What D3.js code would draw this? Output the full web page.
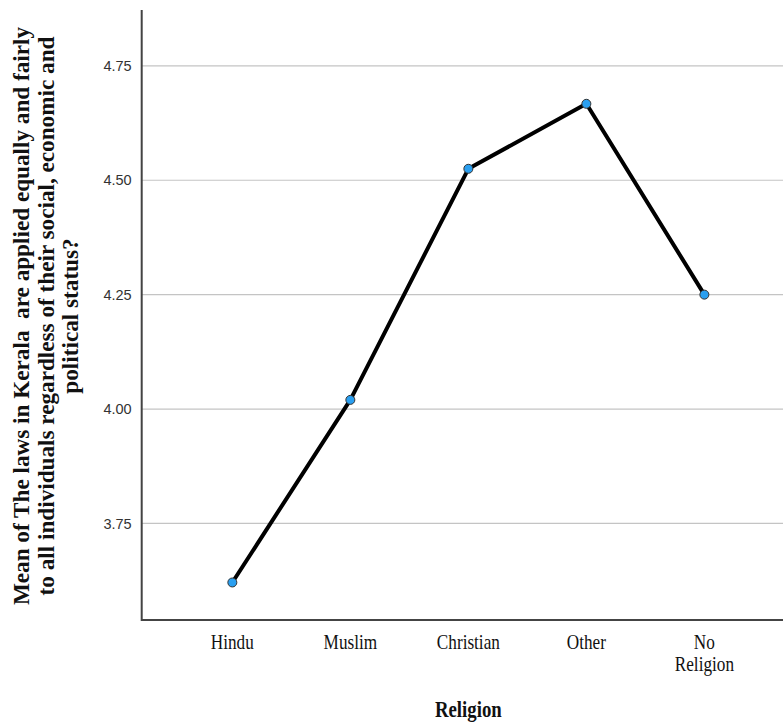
<!DOCTYPE html>
<html><head><meta charset="utf-8">
<script src="https://cdn.jsdelivr.net/npm/d3@7/dist/d3.min.js"></script>
<style>body{margin:0;background:#fff}svg{display:block}text{white-space:pre}</style>
</head><body>
<svg id="c" width="783" height="726"></svg>
<script>
const categories = ["Hindu","Muslim","Christian","Other","No Religion"];
const categoryLines = [["Hindu"],["Muslim"],["Christian"],["Other"],["No","Religion"]];
const meanValues = [3.621, 4.020, 4.525, 4.667, 4.250];
const yTicks = [3.75, 4.00, 4.25, 4.50, 4.75];
const yTitleLines = ["Mean of The laws in Kerala  are applied equally and fairly",
  "to all individuals regardless of their social, economic and",
  "political status?"];
const xTitle = "Religion";

const svg = d3.select("#c");
const pLeft = 141.7, pRight = 795, pTop = 10, pBottom = 620;
const x = d3.scalePoint().domain(categories).range([pLeft, pRight]).padding(0.768);
const y = d3.scaleLinear().domain([3.539, 4.872]).range([pBottom, pTop]);
const vs = 1.2; // vertical stretch of horizontal text

// gridlines
svg.append("g").selectAll("line").data(yTicks).join("line")
  .attr("x1", pLeft).attr("x2", 783)
  .attr("y1", d => y(d)).attr("y2", d => y(d))
  .attr("stroke", "#c4c4c4").attr("stroke-width", 1.2);

// y axis
const ya = svg.append("g").attr("transform", `translate(${pLeft},0)`)
  .call(d3.axisLeft(y).tickValues(yTicks).tickFormat(d3.format(".2f")).tickSize(0).tickPadding(10));
ya.select(".domain").remove();
ya.selectAll("text").attr("font-family", "Liberation Sans, Arial, sans-serif")
  .attr("font-size", 14.5).attr("fill", "#333");

// x axis labels
const xa = svg.append("g");
categories.forEach((c, i) => {
  const t = xa.append("text")
    .attr("transform", `translate(${x(c)},649) scale(1,${vs})`)
    .attr("text-anchor", "middle")
    .attr("font-family", "Liberation Serif, Times New Roman, serif")
    .attr("font-size", 17.2).attr("fill", "#111");
  categoryLines[i].forEach((ln, j) => {
    t.append("tspan").attr("x", 0).attr("y", j * 22 / vs).text(ln);
  });
});

// axis lines
svg.append("path")
  .attr("d", `M${pLeft},${pTop}V${pBottom}H783`)
  .attr("fill", "none").attr("stroke", "#444").attr("stroke-width", 2);

// line
const line = d3.line().x((d, i) => x(categories[i])).y(d => y(d));
svg.append("path").datum(meanValues).attr("d", line)
  .attr("fill", "none").attr("stroke", "#000").attr("stroke-width", 4)
  .attr("stroke-linejoin", "round");

// points
svg.append("g").selectAll("circle").data(meanValues).join("circle")
  .attr("cx", (d, i) => x(categories[i])).attr("cy", d => y(d))
  .attr("r", 4.5).attr("fill", "#2a9ff0").attr("stroke", "#333").attr("stroke-width", 1);

// y title
const yt = svg.append("text")
  .attr("transform", `translate(0,316) rotate(-90)`)
  .attr("text-anchor", "middle")
  .attr("font-family", "Liberation Serif, Times New Roman, serif")
  .attr("font-weight", "bold").attr("font-size", 23.2).attr("fill", "#111");
yTitleLines.forEach((ln, j) => {
  yt.append("tspan").attr("x", 0).attr("y", 29 + j * 24.5).text(ln);
});

// x title
svg.append("text")
  .attr("transform", `translate(${x("Christian")},717) scale(1,${vs})`)
  .attr("text-anchor", "middle")
  .attr("font-family", "Liberation Serif, Times New Roman, serif")
  .attr("font-weight", "bold").attr("font-size", 18.8).attr("fill", "#111")
  .text(xTitle);
</script>
</body></html>
